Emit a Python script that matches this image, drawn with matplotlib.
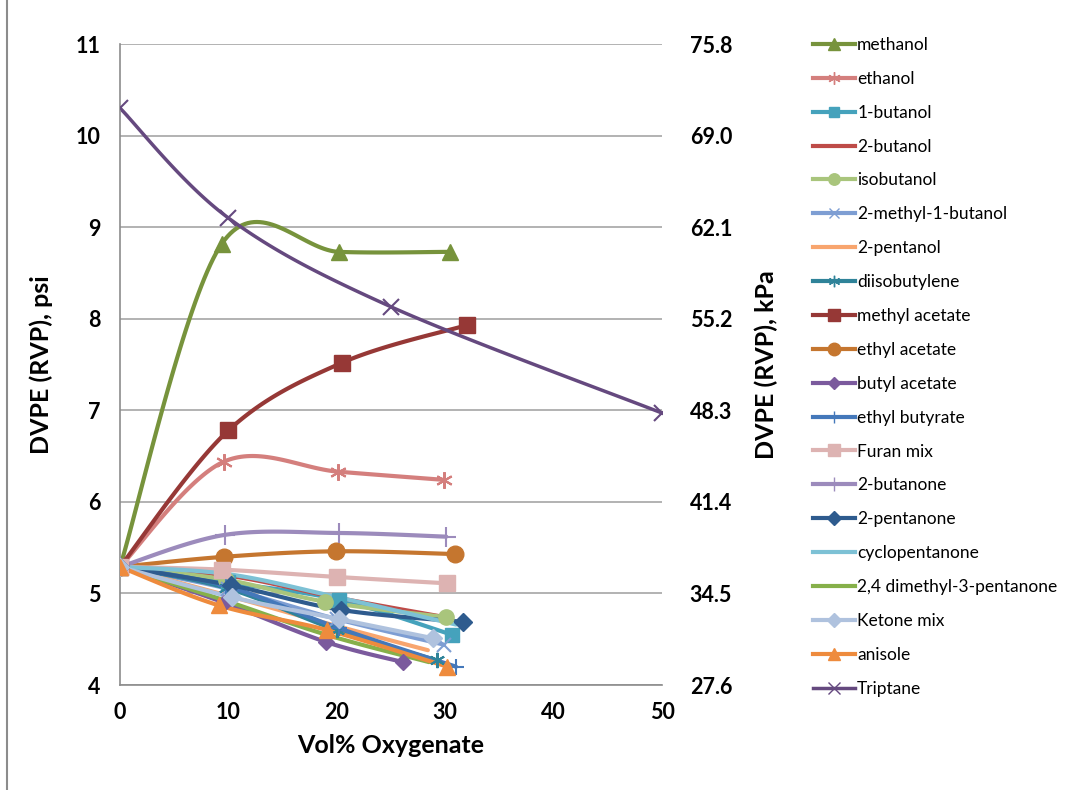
import matplotlib
matplotlib.use("Agg")
import matplotlib.pyplot as plt
import numpy as np
from matplotlib.lines import Line2D

plt.rcParams["font.family"] = ["Lato", "DejaVu Sans"]

# ------------------------------------------------------------------
# Data (x = vol% oxygenate, y = DVPE psi)
# ------------------------------------------------------------------
names = [
    "methanol", "ethanol", "1-butanol", "2-butanol", "isobutanol",
    "2-methyl-1-butanol", "2-pentanol", "diisobutylene", "methyl acetate",
    "ethyl acetate", "butyl acetate", "ethyl butyrate", "Furan mix",
    "2-butanone", "2-pentanone", "cyclopentanone", "2,4 dimethyl-3-pentanone",
    "Ketone mix", "anisole", "Triptane",
]

methanol_x = [0, 9.4, 20.2, 30.4]
methanol_y = [5.29, 8.82, 8.73, 8.73]
ethanol_x = [0, 9.6, 20.1, 29.9]
ethanol_y = [5.29, 6.44, 6.33, 6.24]
butanol1_x = [0, 10.0, 20.2, 30.6]
butanol1_y = [5.29, 5.12, 4.93, 4.55]
butanol2_x = [0, 10.2, 20.2, 30.5]
butanol2_y = [5.29, 5.19, 4.95, 4.73]
isobutanol_x = [0, 9.8, 18.9, 30.1]
isobutanol_y = [5.29, 5.15, 4.91, 4.74]
methylbutanol_x = [0, 10.0, 20.0, 29.9]
methylbutanol_y = [5.29, 5.05, 4.72, 4.44]
pentanol2_x = [0, 9.8, 19.5, 28.4]
pentanol2_y = [5.29, 4.98, 4.66, 4.38]
diisobutylene_x = [0, 9.8, 20.0, 29.2]
diisobutylene_y = [5.29, 5.06, 4.60, 4.27]
methylacetate_x = [0, 10.0, 20.5, 32.0]
methylacetate_y = [5.29, 6.78, 7.52, 7.93]
ethylacetate_x = [0, 9.6, 19.9, 30.9]
ethylacetate_y = [5.29, 5.40, 5.46, 5.43]
butylacetate_x = [0, 9.6, 19.0, 26.1]
butylacetate_y = [5.29, 4.90, 4.47, 4.25]
ethylbutyrate_x = [0, 9.8, 20.2, 31.0]
ethylbutyrate_y = [5.29, 5.08, 4.62, 4.20]
furan_x = [0, 9.4, 20.0, 30.2]
furan_y = [5.29, 5.26, 5.18, 5.11]
butanone_x = [0, 9.7, 20.2, 30.1]
butanone_y = [5.29, 5.64, 5.66, 5.62]
pentanone_x = [0, 10.2, 20.4, 31.6]
pentanone_y = [5.29, 5.09, 4.82, 4.69]
cyclopentanone_x = [0, 10.0, 20.0, 31.0]
cyclopentanone_y = [5.29, 5.21, 4.96, 4.66]
dimethylpentanone_x = [0, 9.5, 19.0, 28.5]
dimethylpentanone_y = [5.29, 4.93, 4.55, 4.25]
ketonemix_x = [0, 10.3, 20.2, 28.9]
ketonemix_y = [5.29, 4.96, 4.72, 4.51]
anisole_x = [0, 9.1, 19.1, 30.2]
anisole_y = [5.29, 4.87, 4.60, 4.20]
triptane_x = [0, 10.0, 25.0, 50.0]
triptane_y = [10.30, 9.10, 8.13, 6.97]

series_x = [
    methanol_x, ethanol_x, butanol1_x, butanol2_x, isobutanol_x,
    methylbutanol_x, pentanol2_x, diisobutylene_x, methylacetate_x,
    ethylacetate_x, butylacetate_x, ethylbutyrate_x, furan_x, butanone_x,
    pentanone_x, cyclopentanone_x, dimethylpentanone_x, ketonemix_x,
    anisole_x, triptane_x,
]
series_y = [
    methanol_y, ethanol_y, butanol1_y, butanol2_y, isobutanol_y,
    methylbutanol_y, pentanol2_y, diisobutylene_y, methylacetate_y,
    ethylacetate_y, butylacetate_y, ethylbutyrate_y, furan_y, butanone_y,
    pentanone_y, cyclopentanone_y, dimethylpentanone_y, ketonemix_y,
    anisole_y, triptane_y,
]

psi_ticks = [4, 5, 6, 7, 8, 9, 10, 11]
kpa_labels = ["27.6", "34.5", "41.4", "48.3", "55.2", "62.1", "69.0", "75.8"]
x_ticks = [0, 10, 20, 30, 40, 50]

# ------------------------------------------------------------------
# Styles (colour, marker, marker size, line width)
# ------------------------------------------------------------------
STAR = (6, 2, 0)
styles = [
    ("#77933C", "^", 11, 3.0),
    ("#D47F7D", STAR, 12, 3.0),
    ("#45A2BC", "s", 10, 3.0),
    ("#BE4B48", None, 0, 3.0),
    ("#A9C57C", "o", 11, 3.0),
    ("#7E9ED3", "x", 10, 3.0),
    ("#F8A56E", None, 0, 3.0),
    ("#2F8399", STAR, 11, 3.0),
    ("#963836", "s", 11, 3.0),
    ("#C5762F", "o", 12, 3.0),
    ("#7B5A9D", "D", 8, 3.0),
    ("#4478BA", "+", 12, 3.0),
    ("#DDB3B2", "s", 12, 3.0),
    ("#9C8BBC", "+", 14, 3.0),
    ("#2E5B8E", "D", 9, 3.0),
    ("#7DC1D5", None, 0, 3.0),
    ("#86B04A", None, 0, 3.0),
    ("#AFC2DE", "D", 9, 3.0),
    ("#EE8B3D", "^", 12, 3.0),
    ("#65497F", "x", 12, 2.5),
]


def excel_smooth(x, y, n=40):
    """Bezier smoothing the way Excel draws 'smoothed line' series."""
    p = np.column_stack([x, y]).astype(float)
    pts = np.vstack([p[0], p, p[-1]])
    out = []
    t = np.linspace(0, 1, n)[:, None]
    for i in range(1, len(pts) - 2):
        p0, p3 = pts[i], pts[i + 1]
        c1 = p0 + (pts[i + 1] - pts[i - 1]) / 6.0
        c2 = p3 - (pts[i + 2] - pts[i]) / 6.0
        seg = ((1 - t) ** 3) * p0 + 3 * ((1 - t) ** 2) * t * c1 \
            + 3 * (1 - t) * t ** 2 * c2 + t ** 3 * p3
        out.append(seg if i == 1 else seg[1:])
    out = np.vstack(out)
    return out[:, 0], out[:, 1]


fig = plt.figure(figsize=(10.78, 7.90), dpi=100)
ax = fig.add_axes([120 / 1078, 105 / 790, 542 / 1078, 641 / 790])

handles = []
for name, xs, ys, (col, mk, ms, lw) in zip(names, series_x, series_y, styles):
    sx, sy = excel_smooth(xs, ys)
    ax.plot(sx, sy, color=col, lw=lw, solid_capstyle="round", zorder=2)
    if mk is not None:
        mew = 1.5 if mk in ("x", "+", STAR) else 1.0
        ax.plot(xs, ys, ls="none", marker=mk, ms=ms, color=col,
                mec=col, mew=mew, zorder=3)
    handles.append(Line2D([], [], color=col, lw=lw, marker=mk,
                          ms=ms * 0.75 if mk is not None else 0,
                          mew=1.0, label=name))

ax.set_xlim(0, 50)
ax.set_ylim(4, 11)
ax.set_xticks(x_ticks)
ax.set_yticks(psi_ticks)
ax.grid(axis="y", color="#A6A6A6", lw=1.2)
ax.set_axisbelow(True)
for side in ("top", "right"):
    ax.spines[side].set_visible(False)
for side in ("left", "bottom"):
    ax.spines[side].set_color("#8C8C8C")
    ax.spines[side].set_linewidth(1.2)
ax.tick_params(length=0, labelsize=15.5, pad=14)
ax.tick_params(axis="x", pad=12)
for lab in ax.get_xticklabels() + ax.get_yticklabels():
    lab.set_fontweight("bold")
ax.set_xlabel("Vol% Oxygenate", fontsize=18, fontweight="bold", labelpad=8)
ax.set_ylabel("DVPE (RVP), psi", fontsize=18, fontweight="bold", labelpad=16)

ax2 = ax.twinx()
ax2.set_ylim(4, 11)
ax2.set_yticks(psi_ticks)
ax2.set_yticklabels(kpa_labels)
for side in ("top", "right", "left", "bottom"):
    ax2.spines[side].set_visible(False)
ax2.tick_params(length=0, labelsize=15.5, pad=20)
for lab in ax2.get_yticklabels():
    lab.set_fontweight("bold")
ax2.set_ylabel("DVPE (RVP), kPa", fontsize=18, fontweight="bold", labelpad=16)

fig.legend(handles=handles, loc="upper left",
           bbox_to_anchor=(806 / 1078, 1 - 30 / 790), frameon=False,
           fontsize=12.5, handlelength=2.4, handletextpad=0.15,
           labelspacing=1.03, borderaxespad=0)

# thin grey frame line along the left edge of the picture
fig.add_artist(Line2D([7 / 1078, 7 / 1078], [0, 1], color="#8C8C8C", lw=1.5))

fig.savefig("out.png", dpi=100)
